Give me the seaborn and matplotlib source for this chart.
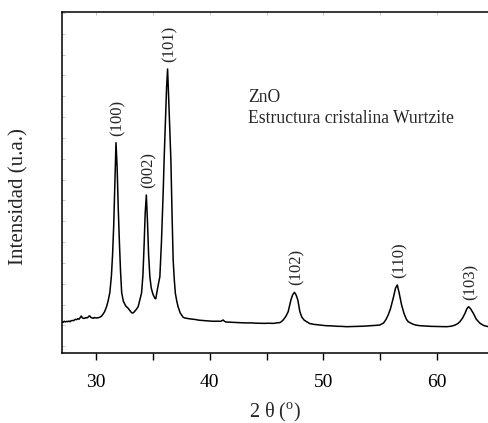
import numpy as np
import pandas as pd
import matplotlib
matplotlib.use("Agg")
import matplotlib.pyplot as plt
from matplotlib.ticker import MultipleLocator
import seaborn as sns

# XRD pattern of ZnO (2theta in degrees, intensity in counts)
two_theta = [
    27.00, 27.10, 27.20, 27.30, 27.40, 27.50, 27.60, 27.70, 27.80, 27.90,
    28.00, 28.10, 28.20, 28.30, 28.40, 28.50, 28.60, 28.70, 28.80, 28.90,
    29.00, 29.10, 29.20, 29.30, 29.40, 29.45, 29.55, 29.65, 29.75, 29.85,
    29.95, 30.05, 30.20, 30.35, 30.50, 30.62, 30.75, 30.92, 31.05, 31.21,
    31.35, 31.45, 31.55, 31.65, 31.75, 31.85, 31.95, 32.05, 32.15, 32.25,
    32.40, 32.60, 32.82, 33.00, 33.12, 33.26, 33.40, 33.55, 33.70, 33.85,
    34.00, 34.12, 34.22, 34.32, 34.42, 34.52, 34.62, 34.73, 34.85, 35.00,
    35.17, 35.25, 35.35, 35.45, 35.61, 35.75, 35.90, 36.00, 36.10, 36.20,
    36.29, 36.38, 36.48, 36.58, 36.68, 36.78, 36.88, 36.97, 37.10, 37.22,
    37.40, 37.66, 37.81, 38.00, 38.20, 38.54, 38.80, 39.00, 39.30, 39.60,
    40.01, 40.30, 40.60, 40.98, 41.18, 41.30, 41.42, 41.70, 42.06, 42.40,
    42.80, 43.20, 43.60, 44.00, 44.41, 44.80, 45.20, 45.60, 45.90, 46.17,
    46.30, 46.46, 46.70, 46.90, 47.14, 47.30, 47.45, 47.60, 47.75, 47.93,
    48.10, 48.30, 48.52, 48.80, 49.20, 49.69, 50.20, 50.70, 51.20, 51.60,
    52.04, 52.50, 53.00, 53.50, 54.00, 54.50, 54.97, 55.30, 55.50, 55.70,
    55.90, 56.14, 56.35, 56.50, 56.65, 56.88, 57.10, 57.30, 57.46, 57.80,
    58.10, 58.49, 59.00, 59.50, 60.00, 60.50, 60.84, 61.20, 61.50, 61.80,
    62.01, 62.25, 62.46, 62.62, 62.78, 62.95, 63.19, 63.45, 63.78, 64.10,
    64.51, 64.60,
]
intensity = [
    590, 576, 600, 585, 598, 592, 605, 590, 612, 620,
    615, 632, 648, 640, 662, 650, 690, 727, 680, 670,
    672, 690, 680, 700, 730, 727, 690, 680, 672, 690,
    682, 680, 686, 700, 730, 775, 830, 950, 1080, 1290,
    1700, 2200, 2900, 3900, 4886, 4300, 3300, 2500, 1800, 1290,
    1080, 970, 912, 850, 806, 800, 840, 890, 950, 1111,
    1279, 1700, 2400, 3200, 3631, 3000, 2200, 1670, 1400, 1250,
    1152, 1140, 1300, 1450, 1670, 2500, 3679, 4600, 5430, 6200,
    6655, 6000, 5200, 4471, 3200, 2071, 1600, 1279, 1080, 943,
    800, 696, 679, 670, 660, 648, 640, 628, 620, 614,
    607, 600, 602, 600, 631, 600, 583, 580, 576, 570,
    565, 560, 562, 555, 552, 550, 553, 550, 560, 570,
    590, 631, 720, 830, 1111, 1240, 1296, 1230, 1111, 830,
    700, 630, 590, 545, 525, 511, 495, 490, 480, 478,
    470, 475, 478, 482, 490, 500, 511, 560, 640, 751,
    900, 1152, 1400, 1471, 1300, 991, 780, 650, 590, 540,
    510, 494, 485, 478, 475, 472, 470, 480, 500, 540,
    590, 680, 792, 900, 950, 900, 792, 650, 552, 500,
    470, 468,
]

# Miller indices of the wurtzite reflections and their peak positions
hkl_labels = ["(100)", "(002)", "(101)", "(102)", "(110)", "(103)"]
hkl_theta = [31.75, 34.42, 36.29, 47.45, 56.50, 62.78]
hkl_counts = [4886, 3631, 6655, 1296, 1471, 950]

sns.set_theme(style="ticks")
plt.rcParams["font.family"] = ["Liberation Serif", "DejaVu Serif"]
plt.rcParams["mathtext.fontset"] = "custom"
plt.rcParams["mathtext.rm"] = "Liberation Serif"

df = pd.DataFrame({"two_theta": two_theta, "intensity": intensity})

fig = plt.figure(figsize=(4.89, 4.23), dpi=100)
ax = fig.add_axes([62 / 489, 70.3 / 423, 427 / 489, 340.7 / 423])

sns.lineplot(data=df, x="two_theta", y="intensity", color="black",
             linewidth=1.1, ax=ax, sort=False)

ax.set_xlim(27, 64.57)
ax.set_ylim(-154, 8023)

for side in ["left", "bottom", "top"]:
    ax.spines[side].set_linewidth(1.1)
    ax.spines[side].set_color("black")
ax.spines["right"].set_visible(False)

ax.xaxis.set_major_locator(MultipleLocator(10))
ax.xaxis.set_minor_locator(MultipleLocator(5))
ax.yaxis.set_major_locator(MultipleLocator(500))
ax.tick_params(axis="x", which="both", direction="out", length=5, width=1.0,
               color="black", labelsize=14, pad=10, top=False,
               labelcolor="black")
ax.tick_params(axis="y", which="both", direction="in", length=2.5, width=0.6,
               color="#bbbbbb", labelleft=False)

# faint inner ticks along the top edge
top = ax.secondary_xaxis("top")
top.xaxis.set_major_locator(MultipleLocator(5))
top.tick_params(direction="in", length=2.5, width=0.6, color="#bbbbbb",
                labeltop=False)
top.spines["top"].set_visible(False)

ax.set_xlabel(r"2 θ ($^{\mathrm{o}}$)", fontsize=14.5)
ax.set_ylabel("Intensidad (u.a.)", fontsize=15)
ax.xaxis.set_label_coords(0.5, -0.142)
ax.yaxis.set_label_coords(-0.078, 0.458)

for lab, xt, yc in zip(hkl_labels, hkl_theta, hkl_counts):
    ax.annotate(lab, xy=(xt, yc), xytext=(1.5, 5), textcoords="offset points",
                rotation=90, ha="center", va="bottom", fontsize=12)

ax.text(43.35, 5870, "ZnO", fontsize=12.7, ha="left", va="baseline")
ax.text(43.35, 5366, "Estructura cristalina Wurtzite", fontsize=12.7,
        ha="left", va="baseline")

fig.savefig("out.png", dpi=100)
